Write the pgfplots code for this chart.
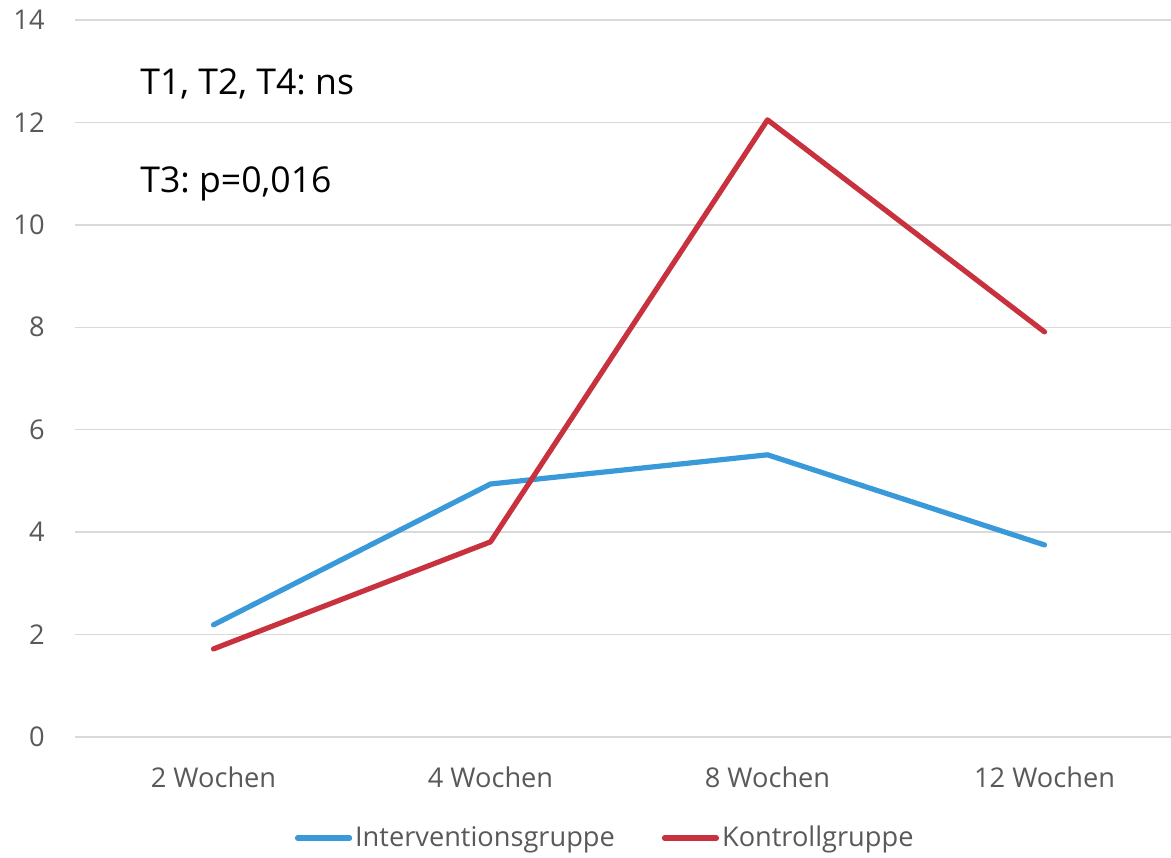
\documentclass[border=0pt]{standalone}
\usepackage{pgfplots}
\pgfplotsset{compat=1.18}
\usepackage{fontspec}
\setmainfont{Open Sans}
\frenchspacing
\definecolor{iblue}{HTML}{3A9AD9}
\definecolor{kred}{HTML}{C8323E}
\definecolor{tgray}{HTML}{595959}
\definecolor{ggray}{HTML}{D9D9D9}
\begin{document}
\begin{tikzpicture}[x=1pt,y=1pt]
\useasboundingbox (0,0) rectangle (585.5,428.5);
\begin{axis}[
  at={(37.5pt,60pt)}, anchor=south west,
  scale only axis, width=554pt, height=358.5pt,
  xmin=-0.5, xmax=3.5, ymin=0, ymax=14,
  xtick={0,1,2,3},
  xticklabels={2 Wochen,4 Wochen,8 Wochen,12 Wochen},
  ytick={0,2,...,14},
  axis line style={draw=none},
  tick style={draw=none},
  ymajorgrids, grid style={ggray, line width=0.75pt},
  tick label style={font=\fontsize{13.6}{16}\selectfont, text=tgray},
  /pgf/number format/assume math mode=true,
  yticklabel style={anchor=east, inner sep=0pt, xshift=-15pt},
  xticklabel style={anchor=center, inner sep=0pt, yshift=-20pt},
  legend style={at={(0.479,-0.1409)}, anchor=center, draw=none, fill=none,
    font=\fontsize{13.6}{16}\selectfont, text=tgray, legend columns=2,
    nodes={inner xsep=1.5pt},
    /tikz/every even column/.append style={column sep=22pt}},
  legend image code/.code={\draw[#1, line cap=round] (0pt,0pt) -- (26pt,0pt);},
  legend cell align=left,
  clip=false,
]
\addplot[iblue, line width=2.6pt, line join=round, line cap=round] coordinates {(0,2.19) (1,4.94) (2,5.51) (3,3.75)};
\addlegendentry{Interventionsgruppe}
\addplot[kred, line width=2.6pt, line join=round, line cap=round] coordinates {(0,1.72) (1,3.81) (2,12.05) (3,7.91)};
\addlegendentry{Kontrollgruppe}
\node[anchor=base west, font=\fontsize{17.8}{21}\selectfont, text=black, inner sep=0pt] at (axis cs:-0.2653,12.54) {T1, T2, T4: ns};
\node[anchor=base west, font=\fontsize{17.8}{21}\selectfont, text=black, inner sep=0pt] at (axis cs:-0.2653,10.625) {T3: p=0,016};
\end{axis}
\end{tikzpicture}
\end{document}
